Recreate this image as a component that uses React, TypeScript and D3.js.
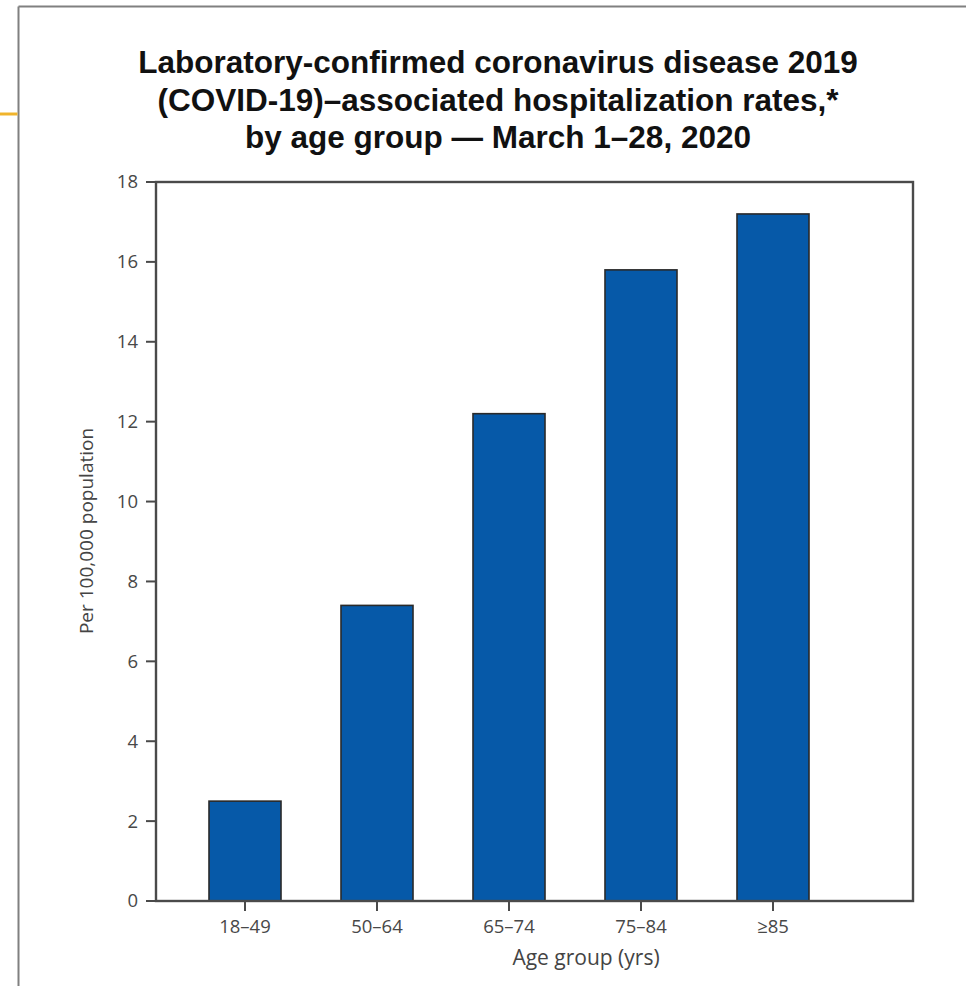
import React from "react";
import * as d3 from "d3";

const categories: string[] = ["18–49", "50–64", "65–74", "75–84", "≥85"];
const rates: number[] = [2.5, 7.4, 12.2, 15.8, 17.2];
const yTicks: number[] = [0, 2, 4, 6, 8, 10, 12, 14, 16, 18];
const titleLines: string[] = [
  "Laboratory-confirmed coronavirus disease 2019",
  "(COVID-19)–associated hospitalization rates,*",
  "by age group — March 1–28, 2020",
];
const yLabel = "Per 100,000 population";
const xLabel = "Age group (yrs)";

const W = 966;
const H = 986;
const plot = { left: 156, right: 913, top: 182, bottom: 901 };

export default function App() {
  const y = d3.scaleLinear().domain([0, 18]).range([plot.bottom, plot.top]);
  const x = d3
    .scaleBand<string>()
    .domain(categories)
    .range([179, 839])
    .paddingInner(0.4545)
    .paddingOuter(0.2273);

  const axisFont = "'Open Sans', 'Noto Sans', sans-serif";
  const tickColor = "#484848";

  return (
    <div style={{ position: "absolute", left: 0, top: 0 }}>
      <svg width={W} height={H} viewBox={`0 0 ${W} ${H}`} style={{ display: "block", background: "#fff" }}>
        {/* outer frame */}
        <line x1={18.5} y1={6.5} x2={W} y2={6.5} stroke="#808080" strokeWidth={2} />
        <line x1={18.5} y1={6.5} x2={18.5} y2={H} stroke="#808080" strokeWidth={2} />
        <line x1={0} y1={114} x2={17.5} y2={114} stroke="#f0b42c" strokeWidth={3} />

        {/* title */}
        {titleLines.map((t, i) => (
          <text
            key={i}
            x={498}
            y={73 + i * 37.5}
            textAnchor="middle"
            fontFamily="'Liberation Sans', Arial, sans-serif"
            fontWeight="bold"
            fontSize={31.5}
            fill="#111"
          >
            {t}
          </text>
        ))}

        {/* bars */}
        {categories.map((c, i) => (
          <rect
            key={c}
            x={x(c)!}
            y={y(rates[i])}
            width={x.bandwidth()}
            height={y(0) - y(rates[i])}
            fill="#0659a8"
            stroke="#2a2a2a"
            strokeWidth={1.6}
          />
        ))}

        {/* plot frame */}
        <rect
          x={plot.left}
          y={plot.top}
          width={plot.right - plot.left}
          height={plot.bottom - plot.top}
          fill="none"
          stroke="#4a4a4a"
          strokeWidth={2.4}
        />

        {/* y axis ticks */}
        {yTicks.map((t) => (
          <g key={t}>
            <line x1={plot.left - 10} x2={plot.left} y1={y(t)} y2={y(t)} stroke="#4a4a4a" strokeWidth={2} />
            <text
              x={plot.left - 18}
              y={y(t)}
              dy="0.35em"
              textAnchor="end"
              fontFamily={axisFont}
              fontSize={18.5}
              fill={tickColor}
            >
              {t}
            </text>
          </g>
        ))}

        {/* x axis ticks */}
        {categories.map((c) => {
          const cx = x(c)! + x.bandwidth() / 2;
          return (
            <g key={c}>
              <line x1={cx} x2={cx} y1={plot.bottom} y2={plot.bottom + 10} stroke="#4a4a4a" strokeWidth={2} />
              <text x={cx} y={933} textAnchor="middle" fontFamily={axisFont} fontSize={18.5} fill={tickColor}>
                {c}
              </text>
            </g>
          );
        })}

        {/* axis titles */}
        <text
          transform={`translate(93, 531) rotate(-90)`}
          textAnchor="middle"
          fontFamily={axisFont}
          fontSize={19}
          fill="#444"
        >
          {yLabel}
        </text>
        <text x={586} y={965} textAnchor="middle" fontFamily={axisFont} fontSize={21} fill="#444">
          {xLabel}
        </text>
      </svg>
    </div>
  );
}
